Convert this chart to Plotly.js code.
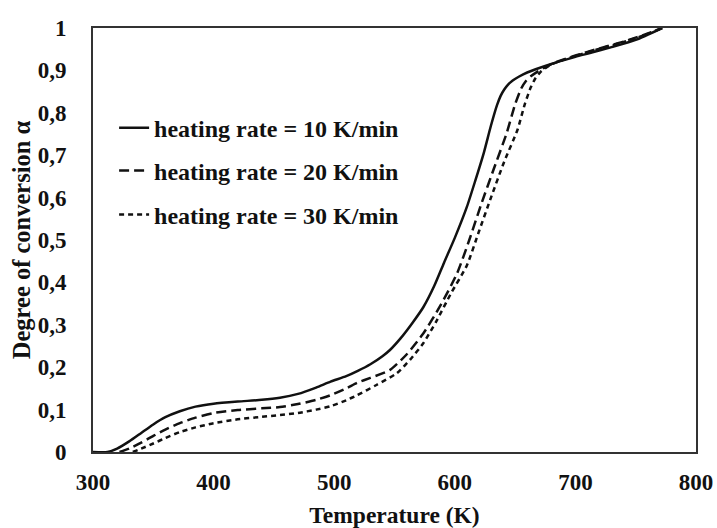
<!DOCTYPE html>
<html>
<head>
<meta charset="utf-8">
<script src="https://cdn.plot.ly/plotly-3.0.1.min.js"></script>
<style>html,body{margin:0;padding:0;background:#fff;}#chart{width:717px;height:528px;}</style>
</head>
<body>
<div id="chart"></div>
<script>
// Heating rate 10 K/min
const T10 = [300, 312, 320, 330, 340, 350, 360, 372, 385, 400, 420, 440, 455, 470, 485, 497, 510, 520, 530, 540, 546, 555, 565, 574, 583, 591, 600, 610, 617, 624, 630, 635, 638, 641, 644, 648, 653, 660, 680, 700, 712, 730, 750, 772];
const A10 = [0, 0, 0.008, 0.025, 0.045, 0.065, 0.082, 0.096, 0.107, 0.114, 0.119, 0.123, 0.128, 0.137, 0.152, 0.166, 0.179, 0.192, 0.207, 0.226, 0.240, 0.268, 0.305, 0.342, 0.392, 0.446, 0.505, 0.578, 0.640, 0.705, 0.770, 0.818, 0.840, 0.855, 0.866, 0.876, 0.885, 0.895, 0.915, 0.932, 0.941, 0.955, 0.972, 1.0];
// Heating rate 20 K/min
const T20 = [322, 330, 340, 350, 360, 372, 385, 400, 420, 440, 455, 470, 485, 497, 510, 519, 530, 546, 560, 574, 588, 602, 612, 622, 632, 643, 650, 655, 659, 663, 668, 680, 700, 720, 740, 760, 772];
const A20 = [0, 0.008, 0.022, 0.038, 0.053, 0.068, 0.081, 0.092, 0.099, 0.103, 0.106, 0.113, 0.123, 0.134, 0.150, 0.163, 0.175, 0.193, 0.230, 0.280, 0.345, 0.422, 0.500, 0.585, 0.665, 0.752, 0.820, 0.857, 0.875, 0.886, 0.896, 0.915, 0.935, 0.952, 0.968, 0.987, 1.0];
// Heating rate 30 K/min
const T30 = [333, 340, 350, 360, 372, 385, 400, 420, 440, 455, 470, 485, 497, 510, 519, 535, 552, 563, 574, 585, 597, 610, 620, 630, 641, 652, 658, 663, 667, 671, 680, 700, 720, 740, 760, 772];
const A30 = [0, 0.008, 0.020, 0.033, 0.047, 0.058, 0.068, 0.077, 0.083, 0.087, 0.092, 0.100, 0.108, 0.122, 0.134, 0.158, 0.186, 0.218, 0.257, 0.310, 0.375, 0.440, 0.520, 0.600, 0.685, 0.760, 0.820, 0.860, 0.882, 0.896, 0.914, 0.934, 0.951, 0.967, 0.986, 1.0];

const seriesNames = ['heating rate = 10 K/min', 'heating rate = 20 K/min', 'heating rate = 30 K/min'];
const xTicks = [300, 400, 500, 600, 700, 800];
const yTicks = [0, 0.1, 0.2, 0.3, 0.4, 0.5, 0.6, 0.7, 0.8, 0.9, 1];
const yTickText = ['0', '0,1', '0,2', '0,3', '0,4', '0,5', '0,6', '0,7', '0,8', '0,9', '1'];

const FAMILY = 'Liberation Serif, Times New Roman, serif';
const TICKFONT = {family: FAMILY, size: 23, color: '#111', weight: 700};
const LEGFONT = {family: FAMILY, size: 24, color: '#111', weight: 700};
const XTITLEFONT = {family: FAMILY, size: 23.5, color: '#111', weight: 700};
const YTITLEFONT = {family: FAMILY, size: 24.5, color: '#111', weight: 700};
const LINE_COLOR = '#111';

const traces = [
  {x: T10, y: A10, name: seriesNames[0], mode: 'lines', legend: 'legend',
   line: {color: LINE_COLOR, width: 2.5, shape: 'spline', smoothing: 0.6}},
  {x: T20, y: A20, name: seriesNames[1], mode: 'lines', legend: 'legend2',
   line: {color: LINE_COLOR, width: 2.5, dash: '10px,5px', shape: 'spline', smoothing: 0.6}},
  {x: T30, y: A30, name: seriesNames[2], mode: 'lines', legend: 'legend3',
   line: {color: LINE_COLOR, width: 2.5, dash: '5px,4px', shape: 'spline', smoothing: 0.6}}
];

const legendBase = {xanchor: 'left', yanchor: 'middle', bgcolor: 'rgba(0,0,0,0)', borderwidth: 0,
  font: LEGFONT, itemwidth: 30};

const layout = {
  width: 717, height: 528,
  margin: {l: 93, r: 21, t: 28, b: 76, pad: 0},
  paper_bgcolor: '#fff', plot_bgcolor: '#fff',
  font: TICKFONT,
  showlegend: true,
  legend: Object.assign({x: 0.035, y: 0.764}, legendBase),
  legend2: Object.assign({x: 0.035, y: 0.663}, legendBase),
  legend3: Object.assign({x: 0.035, y: 0.559}, legendBase),
  xaxis: {
    range: [300, 800], tickvals: xTicks, ticktext: xTicks.map(String),
    showgrid: false, zeroline: false, ticks: '',
    showline: true, mirror: true, linecolor: '#333', linewidth: 2,
    ticklabelstandoff: 8, tickfont: TICKFONT,
    title: {text: 'Temperature (K)', font: XTITLEFONT, standoff: 14}
  },
  yaxis: {
    range: [0, 1], tickvals: yTicks, ticktext: yTickText,
    showgrid: false, zeroline: false, ticks: '',
    showline: true, mirror: true, linecolor: '#333', linewidth: 2,
    ticklabelstandoff: 20, tickfont: TICKFONT,
    title: {text: 'Degree of conversion α', font: YTITLEFONT, standoff: 0}
  }
};

Plotly.newPlot('chart', traces, layout, {displayModeBar: false, staticPlot: true});
</script>
</body>
</html>
